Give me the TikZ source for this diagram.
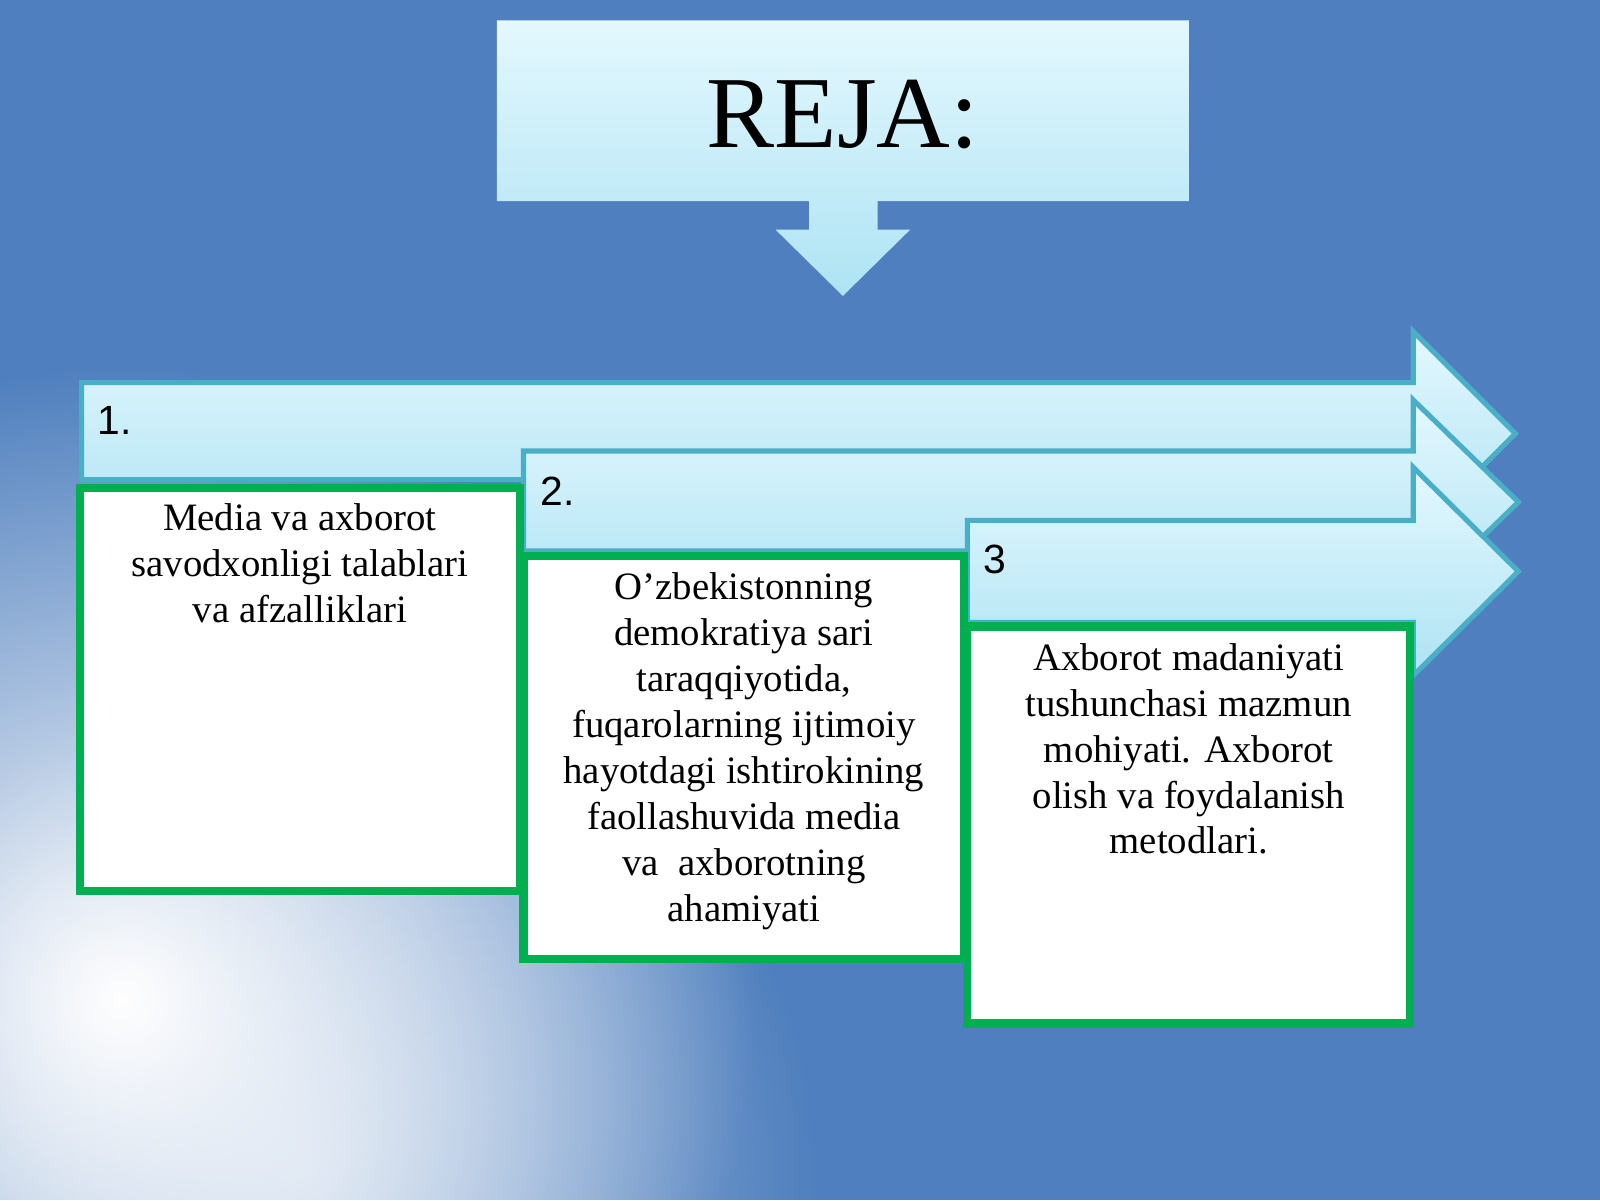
\documentclass[tikz,border=0pt]{standalone}
\usepackage{fontspec}
\setmainfont{Liberation Serif}
\newfontfamily\numfont{Liberation Sans}
\usetikzlibrary{fadings}
\tikzfading[name=myglow, inner color=transparent!0, outer color=transparent!100]
\definecolor{bgblue}{HTML}{4F7FBE}
\definecolor{cyanA}{HTML}{E4F8FE}
\definecolor{cyanB}{HTML}{AEE3F3}
\definecolor{edgeT}{HTML}{4AAEC6}
\definecolor{grn}{HTML}{00B050}
\tikzset{
  arrowshape/.style={draw=edgeT,line width=5pt,top color=cyanA,bottom color=cyanB,line join=miter},
  greenbox/.style={draw=grn,line width=8pt,fill=white},
  bodytext/.style={font=\fontsize{38}{45}\selectfont,align=center,anchor=north},
  numtext/.style={font=\numfont\fontsize{40}{44}\selectfont,anchor=west}
}
\begin{document}
\begin{tikzpicture}[x=1pt,y=-1pt]
\useasboundingbox (0,0) rectangle (1568,1176);
\fill[bgblue] (0,0) rectangle (1568,1176);
\begin{scope}
\clip (0,0) rectangle (1568,1176);
\fill[white,path fading=myglow] (120,980) circle (620);
\fill[white,path fading=myglow,opacity=0.6] (300,1150) circle (500);
\end{scope}
% title callout
\path[top color=cyanA,bottom color=cyanB]
  (487,20) -- (1165,20) -- (1165,197) -- (860,197) -- (860,225) -- (892,225)
  -- (826,290) -- (760,225) -- (793,225) -- (793,197) -- (487,197) -- cycle;
\node[font=\fontsize{100}{110}\selectfont] (title) at (826,112) {REJA:};
% arrows
\path[arrowshape] (80,375) -- (1385,375) -- (1385,325) -- (1485,425) -- (1385,525) -- (1385,470) -- (80,470) -- cycle;
\path[arrowshape] (513,442) -- (1385,442) -- (1385,392) -- (1488,492) -- (1385,592) -- (1385,540) -- (513,540) -- cycle;
\path[arrowshape] (948,510) -- (1385,510) -- (1385,458) -- (1488,560) -- (1385,662) -- (1385,610) -- (948,610) -- cycle;
\node[numtext] (n1) at (92,412) {1.};
\node[numtext] (n2) at (526,481) {2.};
\node[numtext] (n3) at (960,548) {3};
% boxes
\draw[greenbox] (78,478) rectangle (510,873);
\draw[greenbox] (513,545) rectangle (945,940);
\draw[greenbox] (948,614) rectangle (1382,1003);
\node[bodytext] (t1) at (294,490) {Media va axborot\\savodxonligi talablari\\va afzalliklari};
\node[bodytext] (t2) at (729,558) {O’zbekistonning\\demokratiya sari\\taraqqiyotida,\\fuqarolarning ijtimoiy\\hayotdagi ishtirokining\\faollashuvida media\\va~ axborotning\\ahamiyati};
\node[bodytext] (t3) at (1165,627) {Axborot madaniyati\\tushunchasi mazmun\\mohiyati. Axborot\\olish va foydalanish\\metodlari.};
\end{tikzpicture}
\end{document}
